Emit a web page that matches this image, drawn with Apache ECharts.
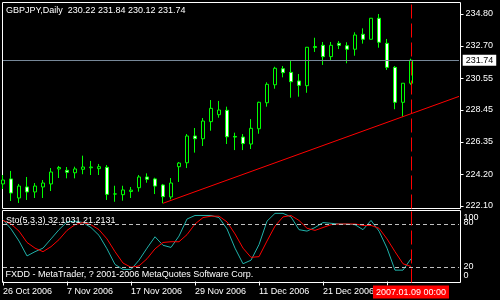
<!DOCTYPE html>
<html><head><meta charset="utf-8">
<script src="https://cdn.jsdelivr.net/npm/echarts@6/dist/echarts.min.js"></script>
<style>html,body{margin:0;padding:0;background:#000;}#c{width:500px;height:300px;}</style>
</head><body><div id="c"></div>
<script>
// ---------------- data ----------------
const symbol = 'GBPJPY';
const timeframe = 'Daily';
const dates = ['2006.10.26','2006.10.27','2006.10.30','2006.10.31','2006.11.01','2006.11.02','2006.11.03',
  '2006.11.06','2006.11.07','2006.11.08','2006.11.09','2006.11.10','2006.11.13','2006.11.14','2006.11.15',
  '2006.11.16','2006.11.17','2006.11.20','2006.11.21','2006.11.22','2006.11.23','2006.11.24','2006.11.27',
  '2006.11.28','2006.11.29','2006.11.30','2006.12.01','2006.12.04','2006.12.05','2006.12.06','2006.12.07',
  '2006.12.08','2006.12.11','2006.12.12','2006.12.13','2006.12.14','2006.12.15','2006.12.18','2006.12.19',
  '2006.12.20','2006.12.21','2006.12.22','2006.12.26','2006.12.27','2006.12.28','2006.12.29','2007.01.02',
  '2007.01.03','2007.01.04','2007.01.05','2007.01.08','2007.01.09'];
const futureDates = ['2007.01.10','2007.01.11','2007.01.12','2007.01.15','2007.01.16','2007.01.17'];
const opens  = [223.56,223.89,222.63,223.36,223.03,223.36,223.56,224.55,224.46,224.30,224.53,224.63,224.57,224.66,
  222.89,222.85,223.06,223.31,224.02,223.89,223.49,222.70,224.70,224.96,226.73,226.55,227.68,228.14,228.43,226.70,
  226.66,226.20,227.21,228.93,230.12,231.18,230.94,230.37,230.06,232.58,232.73,231.98,232.86,232.70,232.47,233.46,
  233.13,234.52,232.86,231.27,228.96,230.22];
const highs  = [224.15,224.42,223.56,224.02,223.62,223.82,224.61,224.75,224.68,224.70,225.43,225.08,224.88,224.81,
  223.44,223.44,223.36,224.15,224.26,223.97,223.56,223.95,225.01,226.86,227.26,227.92,229.11,229.05,228.67,226.95,
  226.86,227.85,229.00,230.28,231.31,231.36,231.71,230.83,232.62,233.23,232.95,232.95,233.01,232.93,233.59,233.85,
  234.53,234.80,233.15,231.36,230.22,231.84];
const lows   = [223.22,222.43,222.30,222.50,222.63,222.63,223.09,223.95,223.93,223.93,224.20,224.15,224.15,222.50,
  222.38,222.45,222.63,223.05,223.64,222.89,222.28,222.54,223.69,224.61,225.63,226.07,227.08,227.94,226.20,225.80,
  225.80,225.87,226.88,228.67,229.86,230.61,229.26,229.33,229.59,232.29,231.43,231.76,232.48,231.54,232.04,232.84,
  233.12,232.57,231.10,228.50,228.01,230.12];
const closes = [223.82,222.96,223.42,223.03,223.42,223.62,224.35,224.65,224.33,224.55,224.68,224.68,224.70,222.87,
  222.90,223.16,223.15,224.02,223.87,223.42,222.72,223.62,224.94,226.73,226.55,227.72,228.56,228.45,226.68,226.66,
  226.23,227.24,228.96,230.15,231.21,230.92,230.32,230.08,232.60,232.65,231.98,232.73,232.73,232.47,233.41,233.13,
  234.52,232.93,231.27,228.96,230.22,231.74];
const stochK = [87,74,57,36,42,47,60,73,84,85,83,76,65,46,24,17,17,30,47,63,51,48,64,88,93,93,93,90,74,47,25,30,52,
  85,96,96,91,73,71,76,83,82,81,81,80,73,86,71,47,16,16,32.1031];
const stochD = [86,81,71,55,47,42,49,59,72,80,83,80,73,60,42,26,20,22,32,46,55,56,56,66,81,90,92,92,84,67,47,34,35,
  57,78,91,93,86,75,72,76,80,81,81,81,79,79,75,60,42,25,21.2131];
const priceTicks = [222.10, 224.20, 226.35, 228.45, 230.55, 232.70, 234.80];
const stochLevels = [0, 20, 80];
const stochTop = [100];
const stochBands = [80, 20];
const trendFrom = ['2006.11.23', 222.28];
const trendTo   = ['2007.01.17', 229.35];
const cursorDate = '2007.01.09';
const cursorTime = '00:00';
const copyright = 'FXDD - MetaTrader, ? 2001-2006 MetaQuotes Software Corp.';
const months = ['Jan','Feb','Mar','Apr','May','Jun','Jul','Aug','Sep','Oct','Nov','Dec'];
const dateLabelIdx = [0, 8, 16, 24, 32, 40];
const dateTickIdx = [0, 8, 16, 24, 32, 40, 48];

// ---------------- chart ----------------
const FONT = 'Liberation Sans';
const cats = dates.concat(futureDates);
const last = dates.length - 1;
const candles = dates.map((d, i) => [opens[i], closes[i], lows[i], highs[i]]);
const fmtDate = s => { const p = s.split('.'); return (+p[2]) + ' ' + months[+p[1] - 1] + ' ' + p[0]; };
const txt = (c) => ({ color: c || '#fff', fontSize: 9, fontFamily: FONT, fontWeight: 'normal', lineHeight: 9 });
const cursorIdx = cats.indexOf(cursorDate);
const stochRich = { l100: { padding: [14, 0, 0, 0] }, l80: { padding: [0, 0, 4, 0] }, l20: { padding: [0, 0, 2, 0] }, l0: { padding: [0, 0, 12, 0] } };
const stochAxis = (vals) => ({
  type: 'value', gridIndex: 1, position: 'right', offset: 1.5, min: -1.4, max: 100.01,
  axisLine: { show: false }, splitLine: { show: false }, axisTick: { show: false },
  axisLabel: { customValues: vals, formatter: v => '{l' + v + '|' + v + '}', color: '#fff', fontSize: 9, fontFamily: FONT, margin: 3,
    showMinLabel: true, showMaxLabel: true, hideOverlap: false, rich: stochRich }
});

const chart = echarts.init(document.getElementById('c'), null, { renderer: 'canvas' });
chart.setOption({
  animation: false,
  backgroundColor: '#000',
  textStyle: { fontFamily: FONT, fontSize: 9 },
  title: [
    { text: symbol + ',' + timeframe + '  ' + [opens[last], highs[last], lows[last], closes[last]].map(v => v.toFixed(2)).join(' '),
      left: 6, top: 6, padding: 0, textStyle: txt() },
    { text: 'Sto(5,3,3) ' + stochK[last].toFixed(4) + ' ' + stochD[last].toFixed(4),
      left: 6, top: 216.5, padding: 0, textStyle: txt() },
    { text: copyright, left: 5.5, top: 270.3, padding: 0, textStyle: txt() }
  ],
  graphic: [
    { type: 'rect', silent: true, shape: { x: 2.5, y: 2.5, width: 458, height: 206 }, style: { fill: 'none', stroke: '#fff', lineWidth: 1 } },
    { type: 'rect', silent: true, shape: { x: 2.5, y: 210.5, width: 458, height: 72 }, style: { fill: 'none', stroke: '#fff', lineWidth: 1 } }
  ],
  grid: [
    { left: 3, top: 2.5, width: 456, height: 206, show: false },
    { left: 3, top: 210.5, width: 456, height: 72, show: false }
  ],
  xAxis: [
    { type: 'category', gridIndex: 0, data: cats, boundaryGap: false, show: false },
    { type: 'category', gridIndex: 1, data: cats, boundaryGap: false,
      axisLine: { show: false }, splitLine: { show: false },
      axisTick: { show: true, length: 4, interval: (i) => dateTickIdx.includes(i), lineStyle: { color: '#fff' } },
      axisLabel: { show: true, interval: (i) => dateLabelIdx.includes(i), formatter: fmtDate, color: '#fff',
        fontSize: 9, fontFamily: FONT, align: 'left', margin: 4, lineHeight: 11 } }
  ],
  yAxis: [
    { type: 'value', gridIndex: 0, position: 'right', offset: 1.5, min: 221.935, max: 235.561,
      axisLine: { show: false }, splitLine: { show: false },
      axisTick: { show: true, length: 3, customValues: priceTicks, lineStyle: { color: '#fff' } },
      axisLabel: { customValues: priceTicks, formatter: v => v.toFixed(2), color: '#fff', fontSize: 9, fontFamily: FONT, margin: 5,
        showMinLabel: true, showMaxLabel: true } },
    stochAxis(stochLevels),
    stochAxis(stochTop)
  ],
  series: [
    { type: 'candlestick', xAxisIndex: 0, yAxisIndex: 0, data: candles, barWidth: 4, clip: true,
      itemStyle: { color: '#000', color0: '#fff', borderColor: '#00ff00', borderColor0: '#00ff00', borderColorDoji: '#00ff00', borderWidth: 1 },
      emphasis: { disabled: true },
      markLine: { silent: true, symbol: ['none', 'none'], animation: false,
        data: [
          { yAxis: closes[last], lineStyle: { color: '#778899', type: 'solid', width: 1 },
            label: { show: true, position: 'end', formatter: closes[last].toFixed(2), color: '#000', backgroundColor: '#fff',
              padding: [1, 3, 1, 3], fontSize: 9, fontFamily: FONT, lineHeight: 9, distance: 3.7 } },
          { xAxis: cursorIdx, lineStyle: { color: '#ff0000', type: [14, 5], width: 1 }, label: { show: false } }
        ] } },
    { type: 'line', xAxisIndex: 0, yAxisIndex: 0, silent: true, symbol: 'none',
      data: [[cats.indexOf(trendFrom[0]), trendFrom[1]], [cats.indexOf(trendTo[0]), trendTo[1]]],
      lineStyle: { color: '#ff0000', width: 1 } },
    { type: 'line', xAxisIndex: 1, yAxisIndex: 1, silent: true, symbol: 'none', data: stochK, clip: false,
      lineStyle: { color: '#20b2aa', width: 1 },
      markLine: { silent: true, symbol: ['none', 'none'], animation: false, label: { show: false },
        lineStyle: { color: '#c0c0c0', type: [4, 3], width: 1 },
        data: stochBands.map(v => ({ yAxis: v })) } },
    { type: 'line', xAxisIndex: 1, yAxisIndex: 1, silent: true, symbol: 'none', data: stochD, clip: false,
      lineStyle: { color: '#ff0000', width: 1 },
      markLine: { silent: true, symbol: ['none', 'none'], animation: false,
        data: [{ xAxis: cursorIdx, lineStyle: { color: '#ff0000', type: [14, 5], width: 1 },
          label: { show: true, position: 'start', formatter: cursorDate + ' ' + cursorTime, color: '#fff', backgroundColor: '#ff0000',
            padding: [2, 3, 1, 3], fontSize: 9, fontFamily: FONT, lineHeight: 10, distance: 3 } }] } }
  ]
});
</script></body></html>
